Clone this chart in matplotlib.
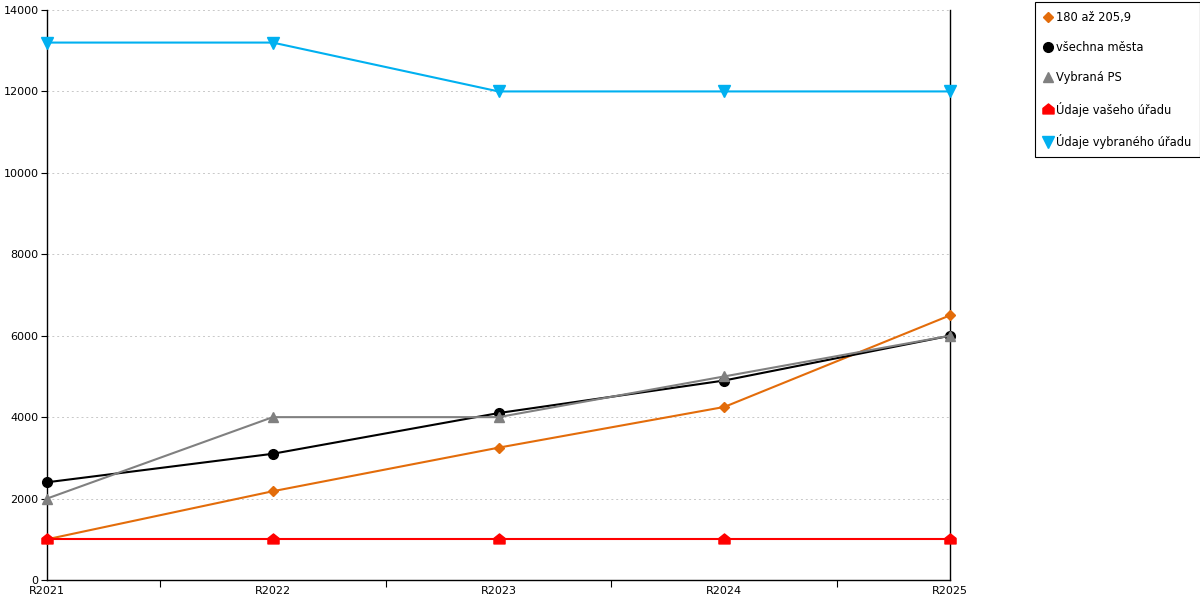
import matplotlib.pyplot as plt
import numpy as np
from matplotlib.path import Path

YEARS = ["R2021", "R2022", "R2023", "R2024", "R2025"]

SERIES_NAMES = [
    "180 až 205,9",
    "všechna města",
    "Vybraná PS",
    "Údaje vašeho úřadu",
    "Údaje vybraného úřadu",
]

band_180 = [1000, 2180, 3250, 4250, 6500]
all_cities = [2400, 3100, 4100, 4900, 6000]
selected_ps = [2000, 4000, 4000, 5000, 6000]
your_office = [1000, 1000, 1000, 1000, 1000]
selected_office = [13200, 13200, 12000, 12000, 12000]

# house-shaped marker for "Údaje vašeho úřadu"
HOUSE = Path([(-1, -0.8), (1, -0.8), (1, 0.2), (0, 1), (-1, 0.2), (-1, -0.8)],
             [Path.MOVETO, Path.LINETO, Path.LINETO, Path.LINETO, Path.LINETO, Path.CLOSEPOLY])

COLORS = ["#e36c0a", "#000000", "#808080", "#ff0000", "#00b0f0"]
MARKERS = ["D", "o", "^", HOUSE, "v"]
MSIZES = [5.5, 7.0, 7.5, 8.0, 8.0]


def main() -> None:
    plt.rcParams.update({
        "font.family": ["DejaVu Sans"],
        "font.size": 8,
    })

    fig = plt.figure(figsize=(12, 6), dpi=100)
    ax = fig.add_axes([47 / 1200, 20 / 600, 903 / 1200, 570 / 600])

    x = np.arange(len(YEARS))
    data = [band_180, all_cities, selected_ps, your_office, selected_office]
    order = [3, 4, 0, 2, 1]
    handles = [None] * len(data)
    for i in order:
        (h,) = ax.plot(
            x, data[i],
            color=COLORS[i],
            marker=MARKERS[i],
            markersize=MSIZES[i],
            linewidth=1.5,
            label=SERIES_NAMES[i],
            clip_on=False,
            zorder=3 + i,
        )
        handles[i] = h

    ax.set_xlim(0, len(YEARS) - 1)
    ax.set_ylim(0, 14000)
    ax.set_yticks(np.arange(0, 14001, 2000))
    ax.set_xticks(x)
    ax.set_xticklabels(YEARS)
    ax.set_xticks(x[:-1] + 0.5, minor=True)
    ax.tick_params(axis="x", which="major", length=0, pad=4)
    ax.tick_params(axis="x", which="minor", length=5, direction="out", width=0.8)
    ax.tick_params(axis="y", length=4, direction="out", width=0.8, pad=2)

    for v in np.arange(2000, 14001, 2000):
        ax.axhline(v, color="#c8c8c8", linewidth=0.7, linestyle=(0, (2, 3)), zorder=1)

    ax.spines["top"].set_visible(False)
    for s in ["left", "right", "bottom"]:
        ax.spines[s].set_color("black")
        ax.spines[s].set_linewidth(1.0)

    leg = fig.legend(
        handles, SERIES_NAMES,
        loc="upper left",
        bbox_to_anchor=(1035 / 1200, 1 - 2 / 600),
        frameon=True,
        fancybox=False,
        framealpha=1,
        edgecolor="black",
        fontsize=8.3,
        handlelength=0.7,
        handletextpad=0.35,
        labelspacing=1.5,
        borderpad=0.75,
        borderaxespad=0,
    )
    for line in leg.get_lines():
        line.set_linestyle("none")
    leg.get_frame().set_linewidth(0.8)

    fig.savefig("out.png", dpi=100)


if __name__ == "__main__":
    main()
